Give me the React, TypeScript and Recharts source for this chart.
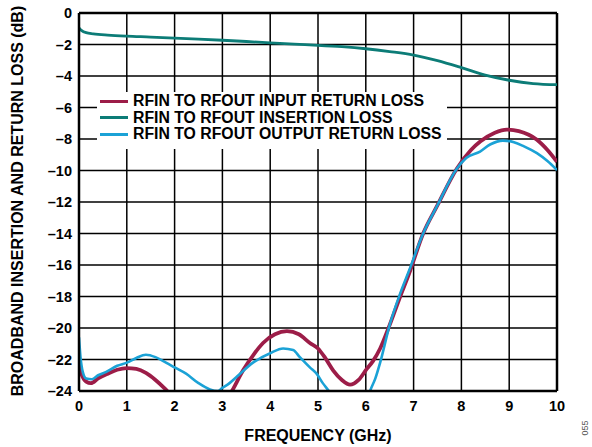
import { LineChart, Line, XAxis, YAxis, CartesianGrid, ReferenceLine } from "recharts";

const xTicks = [0, 1, 2, 3, 4, 5, 6, 7, 8, 9, 10];
const yTicks = [0, -2, -4, -6, -8, -10, -12, -14, -16, -18, -20, -22, -24];

// insertion loss (dB) vs frequency (GHz)
const insFreq = [0, 0.05, 0.15, 0.3, 0.6, 1, 1.5, 2, 2.5, 3, 3.5, 4, 4.5, 5, 5.5, 6, 6.5, 7, 7.5, 8, 8.5, 9, 9.5, 10];
const insLoss = [-0.95, -1.1, -1.25, -1.32, -1.4, -1.47, -1.53, -1.6, -1.66, -1.73, -1.81, -1.9, -1.98, -2.05, -2.14, -2.27, -2.45, -2.67, -3.03, -3.47, -3.94, -4.27, -4.48, -4.55];

// input return loss
const inFreq = [0, 0.05, 0.15, 0.25, 0.4, 0.6, 0.8, 1.0, 1.2, 1.4, 1.6, 1.78, 2.0, 2.4, 2.8, 3.0, 3.2, 3.43, 3.65, 3.85, 4.1, 4.35, 4.6, 4.83, 5.0, 5.15, 5.32, 5.5, 5.67, 5.85, 6.02, 6.15, 6.3, 6.5, 6.72, 6.9, 7.2, 7.5, 7.9, 8.2, 8.4, 8.7, 8.95, 9.2, 9.58, 9.8, 10];
const inRL = [-22.3, -22.9, -23.4, -23.5, -23.2, -22.9, -22.65, -22.55, -22.6, -22.85, -23.3, -23.8, -24.5, -25.5, -25.6, -25, -24, -22.7, -21.7, -20.95, -20.4, -20.2, -20.4, -20.95, -21.3, -21.9, -22.7, -23.3, -23.6, -23.3, -22.6, -22.1, -21.3, -19.8, -18.0, -16.6, -14.0, -12.2, -9.9, -8.7, -8.15, -7.6, -7.4, -7.5, -8.05, -8.7, -9.45];

// output return loss
const outFreq = [0, 0.03, 0.08, 0.15, 0.27, 0.4, 0.56, 0.8, 1.0, 1.2, 1.4, 1.6, 1.82, 2.0, 2.24, 2.5, 2.74, 2.9, 3.0, 3.15, 3.3, 3.64, 4.0, 4.27, 4.48, 4.62, 4.83, 4.97, 5.1, 5.25, 5.5, 5.8, 6.0, 6.09, 6.2, 6.3, 6.5, 6.72, 6.9, 7.2, 7.5, 7.9, 8.1, 8.39, 8.6, 8.87, 9.1, 9.3, 9.58, 9.8, 10];
const outRL = [-20.6, -21.8, -22.8, -23.2, -23.25, -23.0, -22.8, -22.4, -22.2, -21.9, -21.7, -21.85, -22.2, -22.5, -22.9, -23.5, -23.9, -24.0, -23.8, -23.5, -23.1, -22.2, -21.6, -21.3, -21.4, -21.85, -22.5, -22.9, -23.5, -24.1, -25.5, -26, -25, -24, -23.2, -22.2, -19.8, -17.8, -16.4, -14.0, -12.2, -9.9, -9.2, -8.8, -8.35, -8.1, -8.2, -8.45, -8.9, -9.4, -9.97];

const toRows = (xs: number[], ys: number[]) => xs.map((f, i) => ({ f, v: ys[i] }));

const RED = "#9c1d48";
const TEAL = "#0c7c77";
const BLUE = "#1ba2d6";
const FONT = "'Liberation Sans', Arial, sans-serif";

const legendItems = [
  { label: "RFIN TO RFOUT INPUT RETURN LOSS", color: RED },
  { label: "RFIN TO RFOUT INSERTION LOSS", color: TEAL },
  { label: "RFIN TO RFOUT OUTPUT RETURN LOSS", color: BLUE },
];

const fmt = (v: number) => (v < 0 ? `\u2013${Math.abs(v)}` : `${v}`);

export default function App() {
  const tickStyle = { fontFamily: FONT, fontWeight: 700, fontSize: 14.5, fill: "#000" };
  return (
    <div style={{ position: "absolute", left: 0, top: 0, width: 592, height: 447, background: "#fff", fontFamily: FONT }}>
      <LineChart width={592} height={447} margin={{ top: 13, right: 35, bottom: 0, left: 0 }}>
        <CartesianGrid stroke="#000" strokeWidth={1.5} />
        <XAxis
          dataKey="f"
          type="number"
          domain={[0, 10]}
          ticks={xTicks}
          height={56}
          tickLine={false}
          tickSize={0}
          tickMargin={10}
          axisLine={{ stroke: "#000", strokeWidth: 2.5 }}
          tick={tickStyle}
          allowDataOverflow
        />
        <YAxis
          type="number"
          domain={[-24, 0]}
          ticks={yTicks}
          width={79}
          tickLine={false}
          tickSize={0}
          tickMargin={7}
          axisLine={{ stroke: "#000", strokeWidth: 2.5 }}
          tick={tickStyle}
          tickFormatter={fmt}
          allowDataOverflow
        />
        <ReferenceLine y={0} stroke="#000" strokeWidth={2.5} />
        <ReferenceLine x={10} stroke="#000" strokeWidth={2.5} />
        <Line data={toRows(insFreq, insLoss)} dataKey="v" type="monotone" stroke={TEAL} strokeWidth={2.8} dot={false} isAnimationActive={false} />
        <Line data={toRows(inFreq, inRL)} dataKey="v" type="monotone" stroke={RED} strokeWidth={3.8} dot={false} isAnimationActive={false} />
        <Line data={toRows(outFreq, outRL)} dataKey="v" type="monotone" stroke={BLUE} strokeWidth={2.6} dot={false} isAnimationActive={false} />
      </LineChart>

      {/* legend box covers the grid */}
      <div style={{ position: "absolute", left: 97, top: 92, width: 350, height: 56, background: "#fff", paddingTop: 1 }}>
        {legendItems.map((it) => (
          <div key={it.label} style={{ display: "flex", alignItems: "center", height: 16.5 }}>
            <div style={{ width: 28, height: 3, background: it.color, marginLeft: 3, marginRight: 5 }} />
            <span style={{ fontWeight: 700, fontSize: 15.8, lineHeight: "16.5px", whiteSpace: "nowrap" }}>{it.label}</span>
          </div>
        ))}
      </div>

      <div style={{ position: "absolute", left: 79, width: 478, top: 427, textAlign: "center", fontWeight: 700, fontSize: 16, lineHeight: "18px" }}>
        FREQUENCY (GHz)
      </div>
      <div
        style={{
          position: "absolute", left: 18 - 200, top: 201 - 9, width: 400, height: 18, textAlign: "center",
          fontWeight: 700, fontSize: 16, lineHeight: "18px", transform: "rotate(-90deg)", whiteSpace: "nowrap",
        }}
      >
        BROADBAND INSERTION AND RETURN LOSS (dB)
      </div>
      <div
        style={{
          position: "absolute", left: 585 - 15, top: 428 - 6, width: 30, height: 12, textAlign: "center",
          fontSize: 9, lineHeight: "12px", color: "#555", transform: "rotate(-90deg)",
        }}
      >
        055
      </div>
    </div>
  );
}
